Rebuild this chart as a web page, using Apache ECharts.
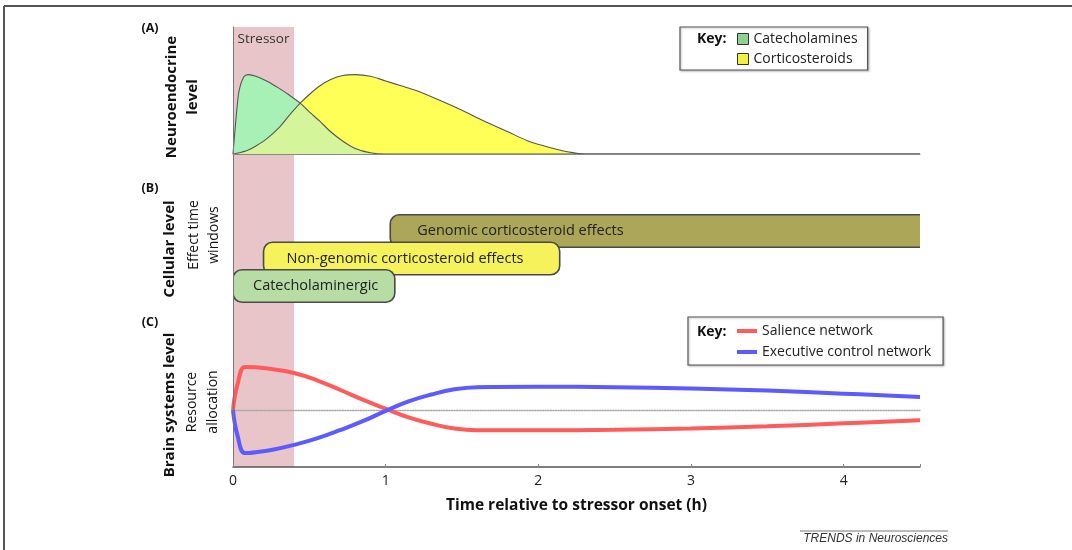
<!DOCTYPE html>
<html>
<head>
<meta charset="utf-8">
<script src="https://cdn.jsdelivr.net/npm/echarts@6/dist/echarts.min.js"></script>
<style>
  html, body { margin: 0; padding: 0; background: #fff; }
  #chart { width: 1072px; height: 550px; }
</style>
</head>
<body>
<div id="chart"></div>
<script>
// Shared time axis (hours after stressor onset)
const xTicks = [0, 1, 2, 3, 4];
const timeMax = 4.5;
const stressorWindow = [0, 0.4];

// (A) Neuroendocrine level
const timeA = [0, 0.02, 0.04, 0.07, 0.1, 0.15, 0.22, 0.3, 0.37, 0.44, 0.5, 0.57, 0.64, 0.72, 0.8, 0.9, 1.0, 1.1, 1.2, 1.35, 1.5, 1.65, 1.8, 1.95, 2.1, 2.2, 2.3, 4.5];
const catecholamines = [0, 0.45, 0.8, 0.97, 1.0, 0.98, 0.92, 0.83, 0.74, 0.64, 0.53, 0.41, 0.28, 0.16, 0.07, 0.015, 0, 0, 0, 0, 0, 0, 0, 0, 0, 0, 0, 0];
const corticosteroids = [0, 0.005, 0.015, 0.03, 0.05, 0.1, 0.19, 0.33, 0.49, 0.64, 0.75, 0.86, 0.94, 0.99, 1.0, 0.98, 0.92, 0.86, 0.8, 0.68, 0.55, 0.41, 0.28, 0.15, 0.07, 0.025, 0, 0];

// (B) Effect time windows, top lane first
const effectNames = ['Genomic corticosteroid effects', 'Non-genomic corticosteroid effects', 'Catecholaminergic'];
const effectStart = [1.03, 0.2, 0.0];
const effectEnd = [4.5, 2.14, 1.06];

// (C) Resource allocation
const timeC = [0, 0.03, 0.08, 0.15, 0.25, 0.4, 0.55, 0.7, 0.85, 1.0, 1.15, 1.3, 1.45, 1.6, 2.0, 2.5, 3.0, 3.5, 4.0, 4.5];
const salience = [0, 0.6, 1.0, 0.99, 0.95, 0.86, 0.69, 0.47, 0.24, 0.03, -0.17, -0.32, -0.43, -0.47, -0.47, -0.46, -0.43, -0.38, -0.31, -0.24];
const executive = [0, -0.6, -1.0, -0.98, -0.93, -0.81, -0.66, -0.47, -0.26, -0.02, 0.2, 0.36, 0.48, 0.53, 0.54, 0.53, 0.5, 0.45, 0.38, 0.3];

const FONT = '"Open Sans"';
const GREEN = '#a8f1b6', YELLOW = '#ffff57', BOTH = '#d5f59a';
const effectFill = ['#aca658', '#f6f25c', '#b7dca4'];
const effectTextPad = [27, 23, 20];

const pairs = (xs, ys) => xs.map((x, i) => [x, ys[i]]);
const overlap = timeA.map((_, i) => Math.min(catecholamines[i], corticosteroids[i]));

const chart = echarts.init(document.getElementById('chart'), null, { renderer: 'canvas' });

const L = 233, W = 687;
const hiddenX = (grid) => ({ gridIndex: grid, type: 'value', min: 0, max: timeMax, show: false });

function renderEffect(params, api) {
  const s = api.value(0), e = api.value(1), lane = api.value(2);
  const p0 = api.coord([s, lane]);
  const p1 = api.coord([e, lane]);
  const h = api.size([0, 1])[1] * 1.18;
  let w = p1[0] - p0[0];
  if (e >= timeMax) w += 14; // open-ended window runs off the axis
  return {
    type: 'group',
    children: [
      {
        type: 'rect',
        shape: { x: p0[0], y: p0[1] - h / 2, width: w, height: h, r: 9 },
        style: { fill: effectFill[params.dataIndex], stroke: '#4a4a4a', lineWidth: 1.6 }
      },
      {
        type: 'text',
        x: p0[0] + effectTextPad[params.dataIndex], y: p0[1],
        style: { text: effectNames[params.dataIndex], fill: '#222', font: '14.5px ' + FONT, verticalAlign: 'middle', align: 'left' }
      }
    ]
  };
}

const rotText = (text, x, y, bold, size) => ({
  type: 'text', x: x, y: y, rotation: Math.PI / 2, z: 100,
  style: { text: text, fill: '#111', font: (bold ? 'bold ' : '') + size + 'px ' + FONT, align: 'center', verticalAlign: 'middle' }
});
const plainText = (text, x, y, font, align) => ({
  type: 'text', x: x, y: y, z: 100,
  style: { text: text, fill: '#111', font: font, align: align || 'left', verticalAlign: 'middle' }
});

const option = {
  backgroundColor: '#fff',
  animation: false,
  textStyle: { fontFamily: 'Open Sans' },
  grid: [
    { left: L, width: W, top: 27, height: 440 },     // full-height frame with time axis
    { left: L, width: W, top: 27, height: 127 },     // (A)
    { left: L, width: W, top: 203.5, height: 110 },  // (B)
    { left: L, width: W, top: 354, height: 112 }     // (C)
  ],
  xAxis: [
    {
      gridIndex: 0, type: 'value', min: 0, max: timeMax, interval: 1, z: 5,
      name: 'Time relative to stressor onset (h)', nameLocation: 'middle', nameGap: 31,
      nameTextStyle: { fontFamily: 'Open Sans', fontWeight: 'bold', fontSize: 15.5, color: '#111' },
      axisLine: { lineStyle: { color: '#555', width: 1.5 } },
      axisTick: { inside: true, length: 3, lineStyle: { color: '#888' } },
      axisLabel: { fontSize: 14, color: '#222', margin: 7, formatter: v => (xTicks.includes(v) ? String(v) : '') },
      splitLine: { show: false }
    },
    {
      gridIndex: 1, type: 'value', min: 0, max: timeMax, z: 5,
      axisLine: { show: true, lineStyle: { color: '#888', width: 1 } },
      axisTick: { show: false }, axisLabel: { show: false }, splitLine: { show: false }
    },
    hiddenX(2),
    {
      gridIndex: 3, type: 'value', min: 0, max: timeMax, z: 3,
      axisLine: { show: true, onZero: true, lineStyle: { color: '#a9a9a9', width: 1.3, type: 'dotted' } },
      axisTick: { show: false }, axisLabel: { show: false }, splitLine: { show: false }
    }
  ],
  yAxis: [
    {
      gridIndex: 0, type: 'value', min: 0, max: 1, z: 5,
      axisLine: { show: true, lineStyle: { color: '#777', width: 1 } },
      axisTick: { show: false }, axisLabel: { show: false }, splitLine: { show: false }
    },
    { gridIndex: 1, type: 'value', min: 0, max: 1.6, show: false },
    { gridIndex: 2, type: 'value', min: -1, max: 3, inverse: true, show: false },
    { gridIndex: 3, type: 'value', min: -1.3, max: 1.3, show: false }
  ],
  legend: [
    {
      data: [
        { name: 'Catecholamines', itemStyle: { color: '#8fd28f', borderColor: '#333', borderWidth: 1 } },
        { name: 'Corticosteroids', itemStyle: { color: '#f2f040', borderColor: '#333', borderWidth: 1 } }
      ],
      orient: 'vertical', left: 680, top: 27, icon: 'rect',
      itemWidth: 11, itemHeight: 11, itemGap: 6,
      padding: [5, 10, 4, 57],
      borderColor: '#555', borderWidth: 1.2, backgroundColor: '#fff',
      shadowColor: 'rgba(0,0,0,0.25)', shadowBlur: 2, shadowOffsetX: 1, shadowOffsetY: 1,
      textStyle: { fontFamily: 'Open Sans', fontSize: 14, color: '#222' },
      selectedMode: false
    },
    {
      data: [
        { name: 'Salience network', itemStyle: { color: '#ff5b5b' } },
        { name: 'Executive control network', itemStyle: { color: '#5b5bff' } }
      ],
      orient: 'vertical', left: 688, top: 317, icon: 'rect',
      itemWidth: 20, itemHeight: 4, itemGap: 7,
      padding: [7, 12, 6, 49],
      borderColor: '#555', borderWidth: 1.2, backgroundColor: '#fff',
      shadowColor: 'rgba(0,0,0,0.25)', shadowBlur: 2, shadowOffsetX: 1, shadowOffsetY: 1,
      textStyle: { fontFamily: 'Open Sans', fontSize: 14, color: '#222' },
      selectedMode: false
    }
  ],
  series: [
    // stressor period, spanning all three panels
    {
      type: 'line', xAxisIndex: 0, yAxisIndex: 0, data: [], z: 1, silent: true,
      markArea: {
        silent: true,
        itemStyle: { color: '#e7c5c9' },
        label: { show: true, position: 'insideTop', distance: 5, color: '#333', fontFamily: 'Open Sans', fontSize: 13.5 },
        data: [[{ name: 'Stressor', xAxis: stressorWindow[0] }, { xAxis: stressorWindow[1] }]]
      }
    },
    // (A) fills
    {
      name: 'Catecholamines', type: 'line', xAxisIndex: 1, yAxisIndex: 1, z: 2,
      data: pairs(timeA, catecholamines), smooth: 0.3, symbol: 'none',
      lineStyle: { width: 0 }, areaStyle: { color: GREEN, opacity: 1 }
    },
    {
      name: 'Corticosteroids', type: 'line', xAxisIndex: 1, yAxisIndex: 1, z: 2,
      data: pairs(timeA, corticosteroids), smooth: 0.3, symbol: 'none',
      lineStyle: { width: 0 }, areaStyle: { color: YELLOW, opacity: 1 }
    },
    {
      name: 'both', type: 'line', xAxisIndex: 1, yAxisIndex: 1, z: 3,
      data: pairs(timeA, overlap), smooth: 0.3, symbol: 'none',
      lineStyle: { width: 0 }, areaStyle: { color: BOTH, opacity: 1 }
    },
    // (A) outlines
    {
      name: 'Catecholamines', type: 'line', xAxisIndex: 1, yAxisIndex: 1, z: 4,
      data: pairs(timeA, catecholamines), smooth: 0.3, symbol: 'none',
      lineStyle: { color: '#555', width: 1.1 }
    },
    {
      name: 'Corticosteroids', type: 'line', xAxisIndex: 1, yAxisIndex: 1, z: 4,
      data: pairs(timeA, corticosteroids), smooth: 0.3, symbol: 'none',
      lineStyle: { color: '#555', width: 1.1 }
    },
    // (B) effect windows
    {
      type: 'custom', xAxisIndex: 2, yAxisIndex: 2, z: 3, clip: true,
      renderItem: renderEffect,
      encode: { x: [0, 1], y: 2 },
      data: effectNames.map((n, i) => [effectStart[i], effectEnd[i], i])
    },
    // (C) networks
    {
      name: 'Salience network', type: 'line', xAxisIndex: 3, yAxisIndex: 3, z: 4,
      data: pairs(timeC, salience), smooth: 0.45, symbol: 'none',
      lineStyle: { color: '#ff5b5b', width: 4 }
    },
    {
      name: 'Executive control network', type: 'line', xAxisIndex: 3, yAxisIndex: 3, z: 4,
      data: pairs(timeC, executive), smooth: 0.45, symbol: 'none',
      lineStyle: { color: '#5b5bff', width: 4 }
    }
  ],
  graphic: [
    // outer frame
    { type: 'line', z: 100, shape: { x1: 4, y1: 6, x2: 1072, y2: 6 }, style: { stroke: '#555', lineWidth: 2 } },
    { type: 'line', z: 100, shape: { x1: 4, y1: 6, x2: 4, y2: 550 }, style: { stroke: '#555', lineWidth: 2 } },
    // panel letters
    plainText('(A)', 150, 28, 'bold 12.5px ' + FONT, 'center'),
    plainText('(B)', 150, 188, 'bold 12.5px ' + FONT, 'center'),
    plainText('(C)', 150, 322, 'bold 12.5px ' + FONT, 'center'),
    // panel titles
    rotText('Neuroendocrine', 172, 97, true, 15),
    rotText('level', 193, 97, true, 15),
    rotText('Cellular level', 170, 249, true, 15),
    rotText('Effect time', 194, 235, false, 14),
    rotText('windows', 214, 235, false, 14),
    rotText('Brain systems level', 170, 405, true, 15),
    rotText('Resource', 192, 402, false, 14),
    rotText('allocation', 213, 402, false, 14),
    // key headings
    plainText('Key:', 697, 39, 'bold 14px ' + FONT),
    plainText('Key:', 697, 332, 'bold 14px ' + FONT),
    // journal credit
    { type: 'line', z: 100, shape: { x1: 800, y1: 531, x2: 948, y2: 531 }, style: { stroke: '#777', lineWidth: 1 } },
    { type: 'text', z: 100, x: 948, y: 539, style: { text: 'TRENDS in Neurosciences', fill: '#333', font: 'italic 12px "Liberation Sans"', align: 'right', verticalAlign: 'middle' } }
  ]
};

chart.setOption(option);
</script>
</body>
</html>
